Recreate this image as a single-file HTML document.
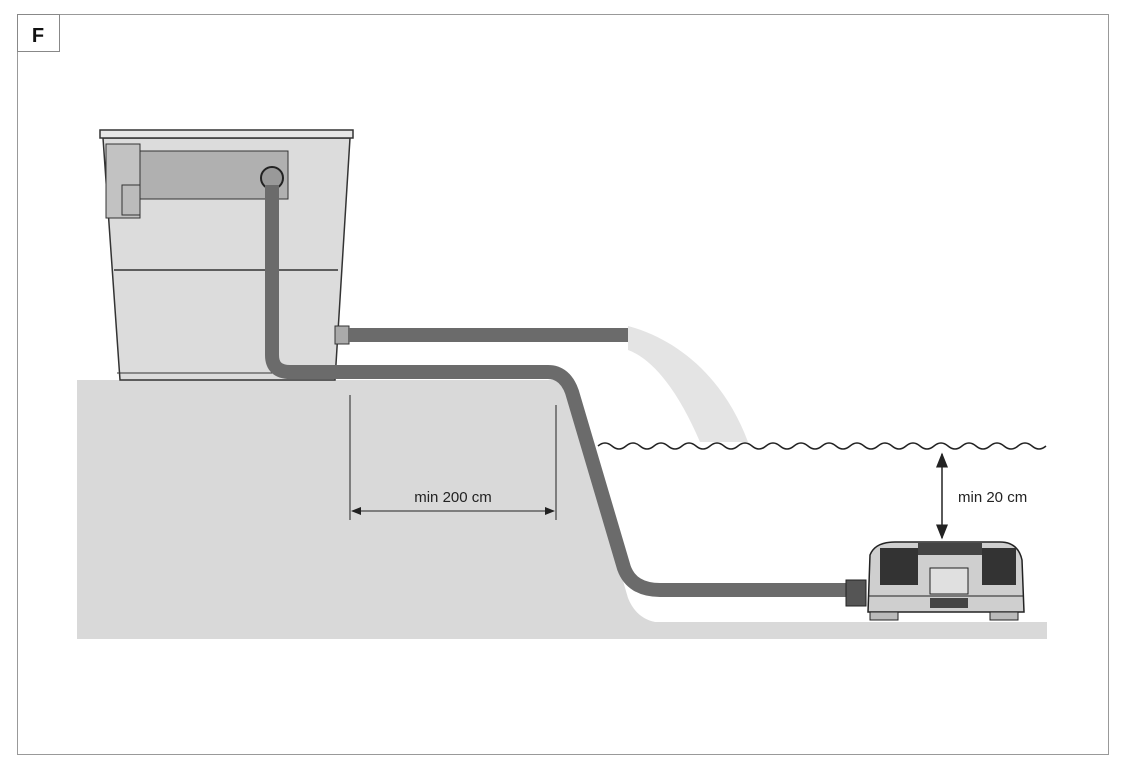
<!DOCTYPE html><html><head><style>body{margin:0;background:#fff}svg{display:block}text{font-family:"Liberation Sans",sans-serif}</style></head><body>
<svg width="1128" height="775" viewBox="0 0 1128 775">
<defs><marker id="a" markerWidth="10" markerHeight="10" refX="9" refY="5" orient="auto-start-reverse"><path d="M0,1 L10,5 L0,9Z" fill="#222"/></marker></defs>
<rect x="17.5" y="14.5" width="1091" height="740" fill="#fff" stroke="#999"/>
<rect x="17.5" y="14.5" width="42" height="37" fill="#fff" stroke="#888"/>
<text x="38" y="42" font-size="20" font-weight="bold" text-anchor="middle" fill="#111">F</text>
<!-- ground -->
<path d="M77,380 L555,380 Q566,382 570,398 L628,598 Q636,618 655,622 L1047,622 L1047,639 L77,639Z" fill="#d9d9d9"/>
<!-- water arc -->
<path d="M628,326 C680,340 725,380 748,442 L700,442 C680,395 655,360 628,350Z" fill="#e4e4e4"/>
<!-- filter -->
<path d="M103,138 L350,138 L335,380 L120,380Z" fill="#dcdcdc" stroke="#333" stroke-width="1.5"/>
<rect x="100" y="130" width="253" height="8" fill="#e6e6e6" stroke="#333" stroke-width="1.5"/>
<rect x="140" y="151" width="148" height="48" fill="#b0b0b0" stroke="#333"/>
<rect x="106" y="144" width="34" height="74" fill="#c2c2c2" stroke="#333"/>
<rect x="122" y="185" width="18" height="30" fill="#bbb" stroke="#333"/>
<line x1="114" y1="270" x2="338" y2="270" stroke="#333" stroke-width="1.5"/>
<line x1="117" y1="373" x2="338" y2="373" stroke="#333"/>
<rect x="335" y="326" width="14" height="18" fill="#aaa" stroke="#333"/>
<circle cx="272" cy="178" r="11" fill="#999" stroke="#222" stroke-width="2"/>
<!-- hoses -->
<path d="M272,185 L272,355 Q272,372 290,372 L548,372 Q565,372 572,392 L624,568 Q632,590 660,590 L848,590" stroke="#6b6b6b" stroke-width="14" fill="none"/>
<rect x="348" y="328" width="280" height="14" fill="#6b6b6b"/>
<!-- waves -->
<path d="M598,446 q7,-6 14,0 t14,0 t14,0 t14,0 t14,0 t14,0 t14,0 t14,0 t14,0 t14,0 t14,0 t14,0 t14,0 t14,0 t14,0 t14,0 t14,0 t14,0 t14,0 t14,0 t14,0 t14,0 t14,0 t14,0 t14,0 t14,0 t14,0 t14,0 t14,0 t14,0 t14,0 t14,0" stroke="#222" stroke-width="1.5" fill="none"/>
<!-- dims -->
<line x1="350" y1="395" x2="350" y2="520" stroke="#222"/>
<line x1="556" y1="405" x2="556" y2="520" stroke="#222"/>
<line x1="352" y1="511" x2="554" y2="511" stroke="#222" marker-start="url(#a)" marker-end="url(#a)"/>
<text x="453" y="502" font-size="15" text-anchor="middle" fill="#222">min 200 cm</text>
<line x1="942" y1="454" x2="942" y2="538" stroke="#222" stroke-width="1.5" marker-start="url(#a)" marker-end="url(#a)"/>
<text x="958" y="502" font-size="15" fill="#222">min 20 cm</text>
<!-- pump -->
<rect x="846" y="580" width="20" height="26" fill="#555" stroke="#222"/>
<path d="M870,555 Q875,542 895,542 L1000,542 Q1018,542 1022,560 L1024,612 L868,612Z" fill="#cfcfcf" stroke="#222" stroke-width="1.5"/>
<path d="M880,548 L918,548 L918,585 L880,585Z" fill="#333"/>
<path d="M982,548 L1016,548 L1016,585 L982,585Z" fill="#333"/>
<rect x="918" y="543" width="64" height="12" fill="#444"/>
<rect x="930" y="568" width="38" height="26" fill="#e0e0e0" stroke="#222"/>
<rect x="930" y="598" width="38" height="10" fill="#444"/>
<line x1="868" y1="596" x2="1024" y2="596" stroke="#222"/>
<rect x="870" y="612" width="28" height="8" fill="#bbb" stroke="#222"/>
<rect x="990" y="612" width="28" height="8" fill="#bbb" stroke="#222"/>
</svg></body></html>
